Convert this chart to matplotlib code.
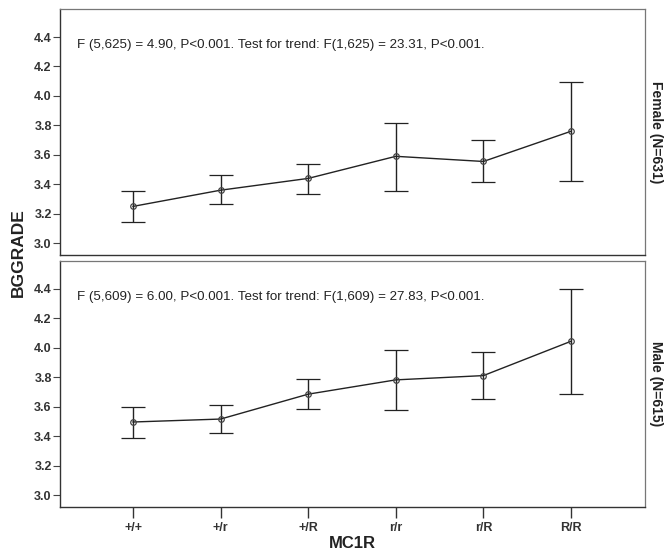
import matplotlib.pyplot as plt
import numpy as np

plt.rcParams['font.family'] = ['Liberation Sans', 'DejaVu Sans']

genotypes = ['+/+', '+/r', '+/R', 'r/r', 'r/R', 'R/R']

female_mean = [3.25, 3.36, 3.44, 3.59, 3.555, 3.76]
female_low = [3.145, 3.263, 3.335, 3.356, 3.415, 3.42]
female_high = [3.352, 3.463, 3.539, 3.818, 3.70, 4.095]

male_mean = [3.497, 3.517, 3.686, 3.783, 3.812, 4.045]
male_low = [3.39, 3.42, 3.585, 3.576, 3.652, 3.688]
male_high = [3.60, 3.61, 3.786, 3.986, 3.975, 4.40]

panels = [
    ('Female (N=631)', female_mean, female_low, female_high,
     'F (5,625) = 4.90, P<0.001. Test for trend: F(1,625) = 23.31, P<0.001.'),
    ('Male (N=615)', male_mean, male_low, male_high,
     'F (5,609) = 6.00, P<0.001. Test for trend: F(1,609) = 27.83, P<0.001.'),
]

fig = plt.figure(figsize=(6.65, 5.57), dpi=100)
ax_top = fig.add_axes([0.0902, 0.5422, 0.8797, 0.4416])
ax_bot = fig.add_axes([0.0902, 0.0898, 0.8797, 0.4416])

x = np.arange(1, len(genotypes) + 1)
for ax, (label, mean, low, high, note) in zip([ax_top, ax_bot], panels):
    mean = np.array(mean)
    yerr = [mean - np.array(low), np.array(high) - mean]
    ax.errorbar(x, mean, yerr=yerr, color='#222222', lw=1.0, elinewidth=1.0,
                capsize=8.6, capthick=1.0, marker='o', markersize=4,
                markerfacecolor='none', markeredgecolor='#444444', markeredgewidth=0.9)
    ax.set_xlim(0.166, 6.845)
    ax.set_ylim(2.92, 4.59)
    ax.set_yticks([3.0, 3.2, 3.4, 3.6, 3.8, 4.0, 4.2, 4.4])
    ax.set_yticklabels(['3.0', '3.2', '3.4', '3.6', '3.8', '4.0', '4.2', '4.4'],
                       fontsize=9, fontweight='bold', color='#333333')
    ax.tick_params(axis='y', direction='out', length=5, width=0.8, color='#444444', pad=1)
    for side in ['top', 'right']:
        ax.spines[side].set_color('#777777')
        ax.spines[side].set_linewidth(0.9)
    for side in ['left', 'bottom']:
        ax.spines[side].set_color('#333333')
        ax.spines[side].set_linewidth(1.0)
    ax.text(0.029, 0.855, note, transform=ax.transAxes, fontsize=9.6, va='center',
            ha='left', color='#222222')
    ax.text(1.0195, 0.5, label, transform=ax.transAxes, rotation=-90, fontsize=10,
            fontweight='bold', va='center', ha='center', color='#222222')

ax_top.set_xticks([])
ax_bot.set_xticks(x)
ax_bot.set_xticklabels(genotypes, fontsize=9, fontweight='bold', color='#333333')
ax_bot.tick_params(axis='x', direction='out', length=8, width=1.0, color='#333333', pad=3)

fig.text(0.028, 0.546, 'BGGRADE', rotation=90, fontsize=12.5, fontweight='bold',
         va='center', ha='center', color='#222222')
fig.text(0.53, 0.025, 'MC1R', fontsize=12, fontweight='bold', va='center',
         ha='center', color='#222222')

fig.savefig('out.png', dpi=100)
